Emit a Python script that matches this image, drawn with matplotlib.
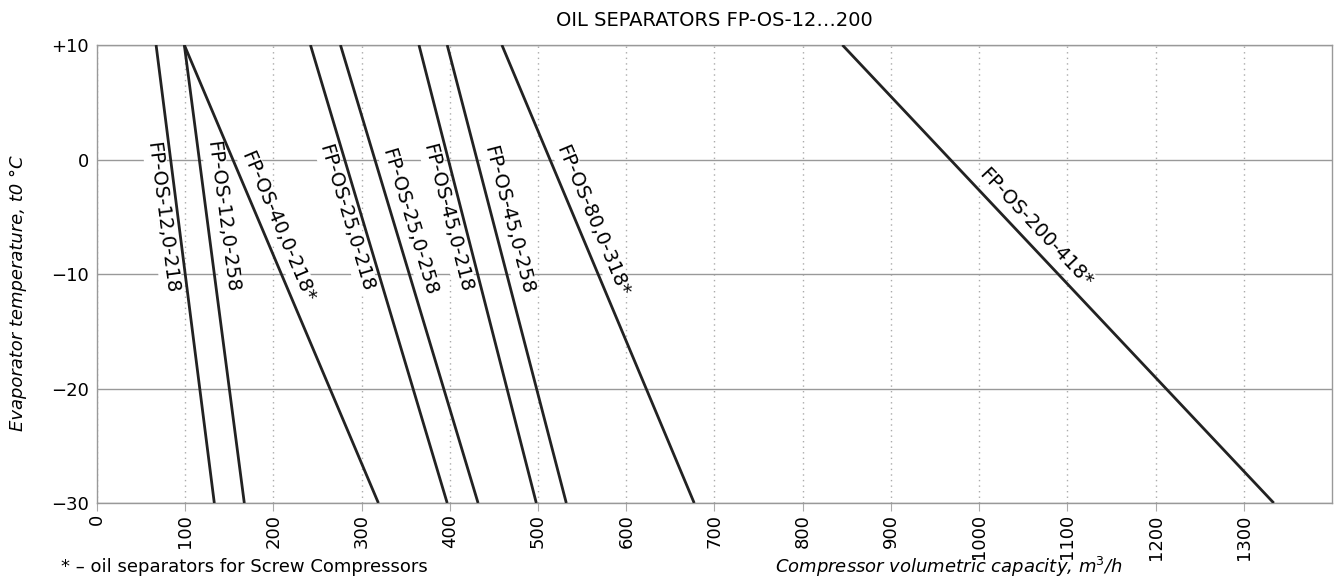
import numpy as np
import matplotlib
matplotlib.use("Agg")
import matplotlib.pyplot as plt

plt.rcParams['font.family'] = ['Liberation Sans Narrow', 'DejaVu Sans']

# Separator lines: capacity at +10 C and at -30 C
names = ["FP-OS-12,0-218", "FP-OS-12,0-258", "FP-OS-40,0-218*",
         "FP-OS-25,0-218", "FP-OS-25,0-258", "FP-OS-45,0-218",
         "FP-OS-45,0-258", "FP-OS-80,0-318*", "FP-OS-200-418*"]
cap_top = [67, 99, 99, 242, 276, 365, 397, 459, 845]
cap_bottom = [133, 167, 319, 397, 432, 498, 532, 677, 1334]
temps = [10, -30]

# where along each line its label sits, and on which side
label_t = [-4.9, -5.2, -6.4, -4.7, -5.8, -4.8, -5.6, -5.9, -6.9]
label_side = [-1, 1, 1, -1, 1, -1, 1, 1, 1]

x_ticks = list(range(0, 1400, 100))
y_ticks = [-30, -20, -10, 0, 10]
y_labels = ["\u221230", "\u221220", "\u221210", "0", "+10"]

fig = plt.figure(figsize=(13.34, 5.86), dpi=100)
ax = fig.add_axes([0.0727, 0.1416, 0.9258, 0.7816])
ax.set_xlim(0, 1400)
ax.set_ylim(-30, 10)

ax.set_xticks(x_ticks)
ax.set_xticklabels([str(v) for v in x_ticks], rotation=90, fontsize=13)
ax.set_yticks(y_ticks)
ax.set_yticklabels(y_labels, fontsize=13)
ax.tick_params(axis='x', length=6, color='#aaaaaa', pad=2)
ax.tick_params(axis='y', length=0, pad=6)

ax.grid(axis='x', color='#aaaaaa', linestyle=(0, (1, 3)), linewidth=1)
ax.grid(axis='y', color='#999999', linestyle='-', linewidth=1)
for s in ax.spines.values():
    s.set_color('#999999')
    s.set_linewidth(1)

for i in range(len(names)):
    xs = [cap_top[i], cap_bottom[i]]
    ax.plot(xs, temps, color='#222222', linewidth=2, solid_capstyle='butt', zorder=3)

    # label centre: point on the line, pushed sideways in screen space
    t = label_t[i]
    frac = (10 - t) / 40
    x = cap_top[i] + (cap_bottom[i] - cap_top[i]) * frac
    p0 = ax.transData.transform((cap_top[i], 10))
    p1 = ax.transData.transform((cap_bottom[i], -30))
    d = (p1 - p0) / np.hypot(*(p1 - p0))
    ang = np.degrees(np.arctan2(d[1], d[0]))
    normal = np.array([-d[1], d[0]])
    if normal[0] < 0:
        normal = -normal
    off = normal * 11 * label_side[i]
    ax.annotate(names[i], (x, t), xytext=(off[0], off[1]), textcoords='offset points',
                rotation=ang, rotation_mode='anchor', ha='center', va='center',
                fontsize=14, zorder=2,
                bbox=dict(boxstyle='square,pad=0.1', fc='white', ec='none'))

fig.text(0.5357, 0.965, "OIL SEPARATORS FP-OS-12\u2026200", ha='center', va='center', fontsize=14)
fig.text(0.0135, 0.50, "Evaporator temperature, t0 \u00b0C", rotation=90, ha='center', va='center',
         fontsize=13, style='italic')
fig.text(0.046, 0.032, "* \u2013 oil separators for Screw Compressors", ha='left', va='center', fontsize=13)
fig.text(0.711, 0.032, "Compressor volumetric capacity, m$^3$/h", ha='center', va='center',
         fontsize=13, style='italic')

fig.savefig("out.png", dpi=100)
